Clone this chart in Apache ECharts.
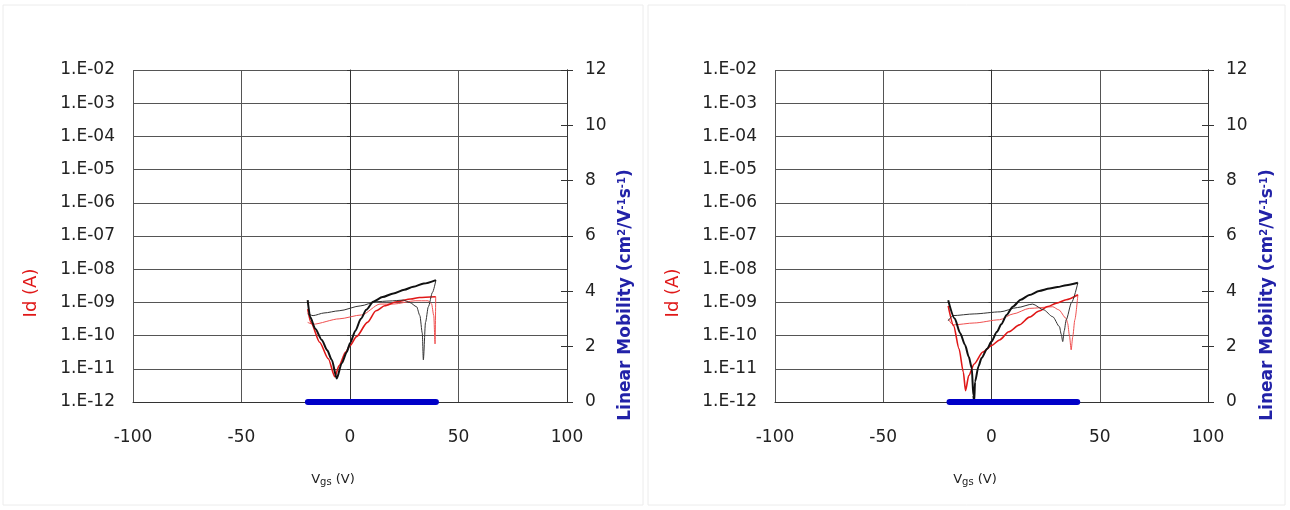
<!DOCTYPE html>
<html>
<head>
<meta charset="utf-8">
<script src="https://cdn.jsdelivr.net/npm/echarts@6/dist/echarts.min.js"></script>
<style>html,body{margin:0;padding:0;background:#fff;}#c{width:1290px;height:510px;}</style>
</head>
<body>
<div id="c"></div>
<script>
// ---- tick labels ----
const xTicks = [-100, -50, 0, 50, 100];
const mobilityTicks = [0, 2, 4, 6, 8, 10, 12];

// ---- left panel ----
const leftBlackFwdV  = [-19.5, -18.4, -16, -13, -10.5, -8.4, -6.1, -3.8, -1.5, 0, 2.5, 5, 7.5, 10.7, 15, 20, 25, 29.2, 34, 39.6];
const leftBlackFwdId = [1.17e-9, 3.7e-10, 1.6e-10, 7.4e-11, 3.6e-11, 1.86e-11, 5.1e-12, 1.48e-11, 3.2e-11, 5.9e-11, 1.4e-10, 3.2e-10, 6.0e-10, 1.05e-9, 1.45e-9, 1.86e-9, 2.4e-9, 2.95e-9, 3.7e-9, 4.7e-9];
const leftBlackRevV  = [39.6, 38, 36.1, 34.8, 33.8, 33.3, 32.2, 30.7, 27.5, 24.6, 18, 12, 5, -5, -12, -17, -19.5];
const leftBlackRevId = [4.7e-9, 2.0e-9, 7.4e-10, 2.5e-10, 1.86e-11, 1.2e-10, 4.0e-10, 7.4e-10, 1.0e-9, 1.17e-9, 1.1e-9, 1.05e-9, 7.9e-10, 5.6e-10, 4.8e-10, 4.0e-10, 4.5e-10];
const leftRedFwdV    = [-19.5, -18, -14, -10, -7, -5, -2, 0, 3, 8, 12, 16, 21.5, 28, 32, 39.5];
const leftRedFwdId   = [6.3e-10, 2.5e-10, 6.3e-11, 2.0e-11, 5.75e-12, 1.26e-11, 3.2e-11, 5.0e-11, 9.3e-11, 2.5e-10, 5.6e-10, 7.9e-10, 1.05e-9, 1.26e-9, 1.41e-9, 1.48e-9];
const leftRedRevV    = [39.5, 39.2, 38.6, 37.6, 36, 30, 20, 13.8, 5.4, -5, -17, -19.5];
const leftRedRevId   = [1.48e-9, 5.6e-11, 4.0e-10, 9.0e-10, 1.12e-9, 1.12e-9, 8.9e-10, 8.9e-10, 4.2e-10, 3.2e-10, 2.2e-10, 2.5e-10];
const leftMobilityV  = [-19.4, -10, 0, 10, 20, 30, 39.6];
const leftMobility   = [0, 0, 0, 0, 0, 0, 0];

// ---- right panel ----
const rightBlackFwdV  = [-20, -17, -14.5, -12.2, -10.5, -9.1, -8.4, -8, -7.6, -6, -4.6, -2, 0, 2.5, 4.5, 7, 9.8, 13.5, 17.5, 22, 26.8, 30.5, 34.5, 39.9];
const rightBlackFwdId = [1.17e-9, 3.3e-10, 1.2e-10, 5.2e-11, 2.3e-11, 1.05e-11, 1.6e-12, 1.0e-12, 4.1e-12, 1.2e-11, 2.1e-11, 4.0e-11, 6.6e-11, 1.3e-10, 2.2e-10, 4.2e-10, 7.4e-10, 1.2e-9, 1.66e-9, 2.2e-9, 2.6e-9, 2.9e-9, 3.3e-9, 3.9e-9];
const rightBlackRevV  = [39.9, 37, 34.5, 33.6, 32.9, 32.2, 31.4, 28.3, 24, 19, 12, 4, -8, -17.8, -20];
const rightBlackRevId = [3.9e-9, 1.0e-9, 3.0e-10, 1.4e-10, 6.6e-11, 1.1e-10, 1.86e-10, 3.7e-10, 6.0e-10, 8.9e-10, 7.0e-10, 5.2e-10, 4.5e-10, 4.0e-10, 2.8e-10];
const rightRedFwdV    = [-20, -17.5, -15, -13, -12, -10.5, -8, -4, 0, 3.7, 8, 12.9, 17.5, 22, 26, 30, 34.5, 39.9];
const rightRedFwdId   = [7.9e-10, 2.0e-10, 4.0e-11, 7.9e-12, 2.2e-12, 6.3e-12, 1.4e-11, 3.2e-11, 5.0e-11, 7.4e-11, 1.3e-10, 2.1e-10, 3.6e-10, 5.5e-10, 7.5e-10, 9.5e-10, 1.2e-9, 1.7e-9];
const rightRedRevV    = [39.9, 38.5, 37.5, 36.8, 36, 35.2, 34.5, 31, 28.3, 17.5, 10, 3.7, -8, -17.8, -20];
const rightRedRevId   = [1.7e-9, 3.0e-10, 9.0e-11, 3.7e-11, 1.0e-10, 2.3e-10, 3.3e-10, 6.0e-10, 7.4e-10, 6.6e-10, 4.5e-10, 3.0e-10, 2.4e-10, 2.1e-10, 3.2e-10];
const rightMobilityV  = [-19.4, -10, 0, 10, 20, 30, 39.6];
const rightMobility   = [0, 0, 0, 0, 0, 0, 0];

function pairs(xs, ys) { return xs.map((x, i) => [x, ys[i]]); }
function logLabel(v) {
  const e = Math.round(Math.log10(v));
  const a = Math.abs(e);
  return '1.E' + (e < 0 ? '-' : '+') + (a < 10 ? '0' + a : '' + a);
}

const tickFont = { fontFamily: 'DejaVu Sans', fontSize: 17, color: '#222' };
const gridColor = '#555';

function xAxisFor(gi) {
  return {
    type: 'value', gridIndex: gi, min: xTicks[0], max: xTicks[xTicks.length - 1], interval: 50,
    axisLine: { show: true, onZero: false, lineStyle: { color: '#333', width: 1 } },
    axisTick: { show: false },
    splitLine: { show: true, lineStyle: { color: gridColor, width: 1 } },
    axisLabel: Object.assign({ margin: 27 }, tickFont)
  };
}
function logAxisFor(gi) {
  return {
    type: 'log', logBase: 10, gridIndex: gi, min: 1e-12, max: 1e-2, splitNumber: 10, position: 'left',
    axisLine: { show: true, lineStyle: { color: '#333', width: 1 } },
    axisTick: { show: true, length: 3, lineStyle: { color: '#333' } },
    splitLine: { show: true, lineStyle: { color: gridColor, width: 1 } },
    minorTick: { show: false },
    axisLabel: Object.assign({ margin: 18, formatter: logLabel }, tickFont)
  };
}
function mobAxisFor(gi, inside, labels) {
  return {
    type: 'value', gridIndex: gi, min: mobilityTicks[0], max: mobilityTicks[mobilityTicks.length - 1], interval: 2,
    position: 'right',
    axisLine: { show: true, lineStyle: { color: '#333', width: 1 } },
    axisTick: { show: true, inside: inside, length: 6, lineStyle: { color: '#333' } },
    splitLine: { show: false },
    axisLabel: Object.assign({ show: labels, margin: 18 }, tickFont)
  };
}

function lineSeries(data, xi, yi, color, width, z) {
  return { type: 'line', xAxisIndex: xi, yAxisIndex: yi, data: data, showSymbol: false, symbol: 'none',
           smooth: 0.25, smoothMonotone: 'x', lineStyle: { color: color, width: width }, z: z, animation: false };
}
function mobSeries(data, xi, yi) {
  return { type: 'line', xAxisIndex: xi, yAxisIndex: yi, data: data, showSymbol: false, symbol: 'none', clip: false,
           lineStyle: { color: '#0000c8', width: 6, cap: 'round' }, z: 10, animation: false };
}

const red = '#e01818', redThin = '#f05050', black = '#111', blackThin = '#333';

function yTitle(cx, cy, text, color, rich, size, weight, family) {
  return { type: 'text', x: cx, y: cy, rotation: Math.PI / 2,
    style: { text: text, fill: color, fontSize: size, fontWeight: weight, fontFamily: family,
             align: 'center', verticalAlign: 'middle', rich: rich } };
}
const supRich = { n: { fontSize: 17, fontWeight: 'bold', fill: '#2222a8', fontFamily: 'DejaVu Sans' },
                  s: { fontSize: 10, fontWeight: 'bold', fill: '#2222a8', verticalAlign: 'top', fontFamily: 'DejaVu Sans' } };
const mobTitle = '{n|Linear Mobility (cm}{s|2}{n|/V}{s|-1}{n|s}{s|-1}{n|)}';
const subRich = { n: { fontSize: 13, fill: '#222', fontFamily: 'DejaVu Sans' },
                  s: { fontSize: 10, fill: '#222', fontFamily: 'DejaVu Sans', padding: [5, 0, 0, 0] } };

const option = {
  backgroundColor: '#fff',
  animation: false,
  grid: [
    { left: 133, top: 70, width: 434, height: 332 },
    { left: 775, top: 70, width: 433, height: 332 }
  ],
  xAxis: [xAxisFor(0), xAxisFor(1)],
  yAxis: [logAxisFor(0), mobAxisFor(0, true, true), mobAxisFor(0, false, false),
          logAxisFor(1), mobAxisFor(1, true, true), mobAxisFor(1, false, false)],
  series: [
    lineSeries(pairs(leftRedRevV, leftRedRevId), 0, 0, redThin, 1, 2),
    lineSeries(pairs(leftRedFwdV, leftRedFwdId), 0, 0, red, 1.6, 3),
    lineSeries(pairs(leftBlackRevV, leftBlackRevId), 0, 0, blackThin, 1, 4),
    lineSeries(pairs(leftBlackFwdV, leftBlackFwdId), 0, 0, black, 2, 5),
    mobSeries(pairs(leftMobilityV, leftMobility), 0, 1),
    lineSeries(pairs(rightRedRevV, rightRedRevId), 1, 3, redThin, 1, 2),
    lineSeries(pairs(rightRedFwdV, rightRedFwdId), 1, 3, red, 1.6, 3),
    lineSeries(pairs(rightBlackRevV, rightBlackRevId), 1, 3, blackThin, 1, 4),
    lineSeries(pairs(rightBlackFwdV, rightBlackFwdId), 1, 3, black, 2, 5),
    mobSeries(pairs(rightMobilityV, rightMobility), 1, 4)
  ],
  graphic: [
    { type: 'rect', shape: { x: 3, y: 5, width: 640, height: 500 }, style: { fill: 'none', stroke: '#ececec', lineWidth: 1 }, silent: true, z: -1 },
    { type: 'rect', shape: { x: 648, y: 5, width: 637, height: 500 }, style: { fill: 'none', stroke: '#ececec', lineWidth: 1 }, silent: true, z: -1 },
    yTitle(31, 293, 'Id (A)', '#e01818', null, 18, 'normal', 'DejaVu Sans'),
    yTitle(673, 293, 'Id (A)', '#e01818', null, 18, 'normal', 'DejaVu Sans'),
    yTitle(626, 295, mobTitle, '#2222a8', supRich, 17, 'bold', 'DejaVu Sans'),
    yTitle(1268, 295, mobTitle, '#2222a8', supRich, 17, 'bold', 'DejaVu Sans'),
    { type: 'text', x: 333, y: 480, style: { text: '{n|V}{s|gs}{n| (V)}', rich: subRich, align: 'center', verticalAlign: 'middle' } },
    { type: 'text', x: 975, y: 480, style: { text: '{n|V}{s|gs}{n| (V)}', rich: subRich, align: 'center', verticalAlign: 'middle' } }
  ]
};

const chart = echarts.init(document.getElementById('c'), null, { renderer: 'canvas' });
chart.setOption(option);
</script>
</body>
</html>
